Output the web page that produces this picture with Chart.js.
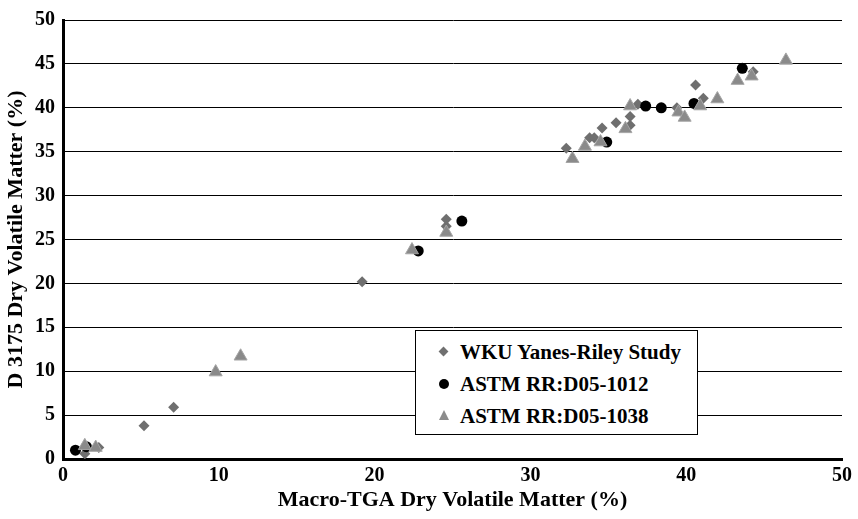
<!DOCTYPE html>
<html>
<head>
<meta charset="utf-8">
<script src="https://cdn.jsdelivr.net/npm/chart.js@4/dist/chart.umd.min.js"></script>
<style>
  body { margin: 0; background: #fff; }
  #wrap { position: relative; width: 858px; height: 519px; }
  #legend {
    position: absolute; left: 415px; top: 330px; width: 281px; height: 103px;
    border: 1px solid #000; background: #fff;
    font: bold 21px "Liberation Serif", "Times New Roman", serif; color: #000;
  }
  .row { position: absolute; left: 0; height: 24px; line-height: 24px; white-space: nowrap; }
  .row span.txt { position: absolute; left: 44px; top: 0; }
  .mk { position: absolute; }
  .dia { left: 24px; top: 8px; width: 7px; height: 7px; background: #707070; transform: rotate(45deg); }
  .cir { left: 23px; top: 7px; width: 10px; height: 10px; border-radius: 50%; background: #000; }
  .tri { left: 23px; top: 6px; width: 0; height: 0; border-left: 5px solid transparent; border-right: 5px solid transparent; border-bottom: 10px solid #8c8c8c; }
</style>
</head>
<body>
<div id="wrap">
  <canvas id="chart" width="858" height="519"></canvas>
  <div id="legend"></div>
</div>
<script>
// WKU Yanes-Riley Study (diamonds)
const wkuX = [1.4, 2.3, 5.2, 7.1, 19.2, 24.6, 24.6, 32.3, 33.8, 34.1, 34.6, 35.5, 36.4, 36.4, 36.9, 39.4, 40.6, 41.1, 44.3];
const wkuY = [0.6, 1.3, 3.8, 5.9, 20.2, 26.5, 27.3, 35.4, 36.6, 36.6, 37.7, 38.3, 39.0, 38.0, 40.4, 40.0, 42.6, 41.1, 44.1];
// ASTM RR:D05-1012 (circles)
const rr1012X = [0.8, 1.5, 22.8, 25.6, 34.9, 37.4, 38.4, 40.5, 43.6];
const rr1012Y = [1.0, 1.4, 23.7, 27.1, 36.1, 40.2, 40.0, 40.5, 44.5];
// ASTM RR:D05-1038 (triangles)
const rr1038X = [1.4, 2.1, 9.8, 11.4, 22.4, 24.6, 32.7, 33.5, 34.5, 36.1, 36.4, 39.5, 39.9, 40.9, 42.0, 43.3, 44.2, 46.4];
const rr1038Y = [1.5, 1.3, 9.9, 11.7, 23.8, 25.8, 34.2, 35.6, 36.1, 37.6, 40.2, 39.5, 38.9, 40.2, 41.0, 43.1, 43.6, 45.4];

const seriesNames = ['WKU Yanes-Riley Study', 'ASTM RR:D05-1012', 'ASTM RR:D05-1038'];
const xTitle = 'Macro-TGA Dry Volatile Matter (%)';
const yTitle = 'D 3175 Dry Volatile Matter (%)';

function toPoints(xs, ys) {
  return xs.map((x, i) => ({ x: x, y: ys[i] }));
}

const serif = '"Liberation Serif", "Times New Roman", serif';

new Chart(document.getElementById('chart').getContext('2d'), {
  type: 'scatter',
  data: {
    datasets: [
      {
        label: seriesNames[0],
        data: toPoints(wkuX, wkuY),
        pointStyle: 'rectRot',
        pointRadius: 5.5,
        backgroundColor: '#6f6f6f',
        borderColor: '#6f6f6f',
        borderWidth: 0,
        order: 2
      },
      {
        label: seriesNames[1],
        data: toPoints(rr1012X, rr1012Y),
        pointStyle: 'circle',
        pointRadius: 5.5,
        backgroundColor: '#000',
        borderColor: '#000',
        borderWidth: 0,
        order: 1
      },
      {
        label: seriesNames[2],
        data: toPoints(rr1038X, rr1038Y),
        pointStyle: 'triangle',
        pointRadius: 7.5,
        backgroundColor: '#8a8a8a',
        borderColor: '#a6a6a6',
        borderWidth: 1,
        order: 0
      }
    ]
  },
  options: {
    responsive: false,
    animation: false,
    events: [],
    layout: { padding: { top: 13, right: 16, left: 0, bottom: 0 } },
    plugins: {
      legend: { display: false },
      tooltip: { enabled: false }
    },
    scales: {
      x: {
        type: 'linear',
        min: 0,
        max: 50,
        afterFit: s => { s.height = 60; },
        ticks: { stepSize: 10, color: '#000', padding: 5, font: { family: serif, size: 20, weight: 'bold' } },
        grid: { display: false, drawTicks: false },
        border: { display: true, color: '#000', width: 3 },
        title: {
          display: true, text: xTitle, color: '#000',
          font: { family: serif, size: 22, weight: 'bold' },
          padding: { top: 0, bottom: 5 }
        }
      },
      y: {
        type: 'linear',
        min: 0,
        max: 50,
        afterFit: s => { s.width = 63; },
        ticks: { stepSize: 5, color: '#000', padding: 8, font: { family: serif, size: 20, weight: 'bold' } },
        grid: { color: '#000', lineWidth: 1, drawTicks: false },
        border: { display: true, color: '#000', width: 3 },
        title: {
          display: true, text: yTitle, color: '#000',
          font: { family: serif, size: 22, weight: 'bold' },
          padding: { top: 3, bottom: 0 }
        }
      }
    }
  }
});

// legend box drawn as HTML
const legendBox = document.getElementById('legend');
const markerClass = ['dia', 'cir', 'tri'];
const rowTops = [9, 41, 73];
seriesNames.forEach((name, i) => {
  const row = document.createElement('div');
  row.className = 'row';
  row.style.top = rowTops[i] + 'px';
  row.innerHTML = `<div class="mk ${markerClass[i]}"></div><span class="txt">${name}</span>`;
  legendBox.appendChild(row);
});
</script>
</body>
</html>
